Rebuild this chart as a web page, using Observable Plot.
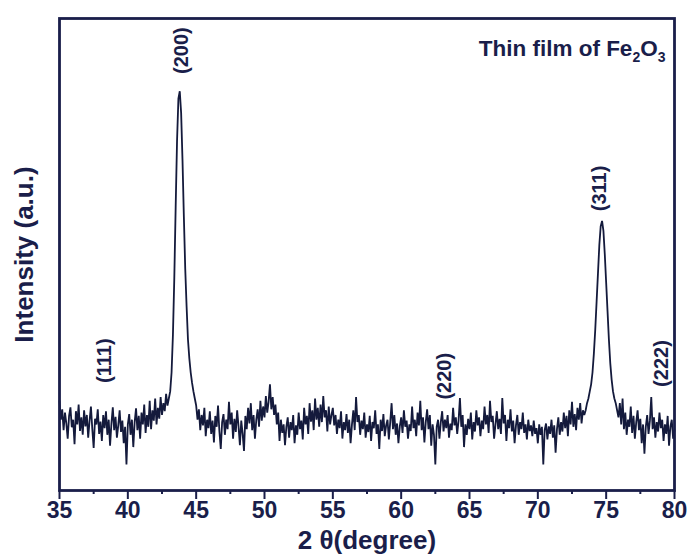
<!DOCTYPE html>
<html>
<head>
<meta charset="utf-8">
<script src="https://cdn.jsdelivr.net/npm/d3@7"></script>
<script src="https://cdn.jsdelivr.net/npm/@observablehq/plot@0.6"></script>
<style>
  html, body { margin: 0; padding: 0; background: #fff; }
  #chart { width: 691px; height: 560px; }
</style>
</head>
<body>
<div id="chart"></div>
<script>
// ---- Data (2θ sampled every 0.1°, intensity in arbitrary units) ----
const step = 0.1;

const bgStart1 = 35.0; // 35.0 – 42.9
const bg1 = [190,150,172,128,165,142,110,158,176,134,
             150,98,168,140,182,126,155,118,170,136,
             160,112,148,178,130,90,152,140,172,120,
             146,105,160,132,168,118,150,95,142,176,
             128,156,112,138,170,124,148,100,135,55,
             140,162,118,150,92,145,174,128,158,110,
             165,140,182,122,160,135,190,130,170,148,
             195,140,175,152,198,160,185,168,205,180];

const peakStart200 = 43.0; // 43.0 – 44.9
const peak200 = [195,210,250,330,450,600,740,830,846,800,
                 700,580,470,390,320,280,250,228,210,195];

const bgStart2 = 45.0; // 45.0 – 54.9
const bg2 = [180,150,172,128,160,138,175,115,150,132,
             168,120,148,102,158,135,180,125,88,145,
             162,118,150,130,188,140,165,110,152,124,
             170,136,96,148,120,84,158,130,175,142,
             185,128,160,110,150,172,135,190,148,178,
             155,200,165,188,225,172,198,160,182,140,
             165,105,150,122,140,96,135,155,112,145,
             128,160,100,138,118,165,130,148,108,175,
             140,158,120,185,146,170,128,195,150,175,
             135,182,145,200,155,170,125,178,140,160];

const bgStart3 = 55.0; // 55.0 – 73.4
const bg3 = [175,138,160,120,150,132,168,110,145,128,
             162,122,150,100,140,170,128,198,145,160,
             118,148,130,165,112,140,124,158,105,145,
             132,170,120,140,88,150,126,162,115,138,
             150,108,145,185,130,160,118,142,100,136,
             155,122,170,135,148,110,140,126,178,132,
             150,115,165,138,190,128,155,102,145,172,
             130,160,95,140,118,55,135,150,110,145,
             168,125,150,132,160,112,142,128,175,138,
             155,120,148,196,135,160,92,140,118,152,
             130,165,108,145,125,170,138,155,115,148,
             130,178,140,160,122,190,145,158,110,140,
             168,130,152,120,196,142,160,105,150,132,
             172,125,148,100,138,160,118,145,130,165,
             122,140,108,150,126,138,115,148,120,132,
             100,140,118,135,55,128,142,108,136,120,
             150,112,138,80,130,155,118,145,125,165,
             132,158,115,170,140,188,135,162,128,175,
             150,185,142,170,160];

const peakStart311 = 73.5; // 73.5 – 75.9
const peak311 = [170,185,195,210,225,250,290,340,400,460,
                 520,560,571,550,500,440,380,320,270,235,
                 210,195,185,170,155];

const bgStart4 = 76.0; // 76.0 – 80.0
const bg4 = [185,140,195,130,165,118,150,135,178,122,
             158,110,145,170,128,152,100,140,78,135,
             160,120,148,198,130,155,112,145,125,165,
             132,150,105,140,120,158,95,135,150,110,
             128];

// Miller-index labels
const hklLabels = ["(111)", "(200)", "(220)", "(311)", "(222)"];
const hklTheta  = [38.3, 43.92, 63.16, 74.55, 79.04];
const hklY      = [275, 932, 242, 640, 269];

const xTicks = [35, 40, 45, 50, 55, 60, 65, 70, 75, 80];
const xMinorTicks = [37.5, 42.5, 47.5, 52.5, 57.5, 62.5, 67.5, 72.5, 77.5];

const sampleTitle = "Thin film of Fe2O3";
const xTitle = "2 θ(degree)";
const yTitle = "Intensity (a.u.)";

// ---- Build table ----
const segments = [
  [bgStart1, bg1], [peakStart200, peak200], [bgStart2, bg2],
  [bgStart3, bg3], [peakStart311, peak311], [bgStart4, bg4]
];
const pattern = [];
for (const [start, vals] of segments) {
  vals.forEach((v, i) => pattern.push({theta: +(start + i * step).toFixed(2), I: v}));
}
const hkl = hklLabels.map((t, i) => ({text: t, theta: hklTheta[i], y: hklY[i]}));

const ink = "#1a1e4a";
const lineInk = "#141a3c";
const font = "'Liberation Sans', Arial, Helvetica, sans-serif";

const plot = Plot.plot({
  width: 691,
  height: 560,
  marginLeft: 59,
  marginRight: 17,
  marginTop: 18,
  marginBottom: 70,
  style: {fontFamily: font, background: "#fff", color: ink, overflow: "visible"},
  x: {domain: [35, 80]},
  y: {domain: [0, 1000], axis: null},
  marks: [
    Plot.line(pattern, {x: "theta", y: "I", stroke: lineInk, strokeWidth: 1.8, strokeLinejoin: "miter"}),
    Plot.axisX({ticks: xMinorTicks, tickSize: 4, tickFormat: () => "", stroke: ink, strokeWidth: 2, label: null}),
    Plot.axisX({ticks: xTicks, tickSize: 9, tickPadding: 2, tickFormat: d => String(d),
                fontSize: 23, fontWeight: "bold", fill: ink, stroke: ink, strokeWidth: 2, label: null}),
    Plot.frame({stroke: ink, strokeWidth: 2.8}),
    Plot.text(hkl, {x: "theta", y: "y", text: "text", rotate: -90, fontSize: 20, fontWeight: "bold",
                    fill: ink, textAnchor: "middle", lineAnchor: "middle"}),
    Plot.text([sampleTitle], {frameAnchor: "top-right", dx: -9, dy: 30, textAnchor: "end", lineAnchor: "middle",
                    fontSize: 22.5, fontWeight: "bold", fill: ink}),
    Plot.text([xTitle], {frameAnchor: "bottom", dy: 50, textAnchor: "middle", lineAnchor: "middle",
                    fontSize: 26, fontWeight: "bold", fill: ink}),
    Plot.text([yTitle], {frameAnchor: "left", dx: -35, rotate: -90, textAnchor: "middle", lineAnchor: "middle",
                    fontSize: 26, fontWeight: "bold", fill: ink})
  ]
});

// subscripts in the sample title
d3.select(plot).selectAll("text").each(function() {
  if (this.textContent === sampleTitle) {
    const t = d3.select(this);
    t.text(null);
    t.append("tspan").text("Thin film of Fe");
    t.append("tspan").attr("font-size", 14).attr("dy", 6).text("2");
    t.append("tspan").attr("dy", -6).text("O");
    t.append("tspan").attr("font-size", 14).attr("dy", 6).text("3");
  }
});

document.getElementById("chart").appendChild(plot);
</script>
</body>
</html>
